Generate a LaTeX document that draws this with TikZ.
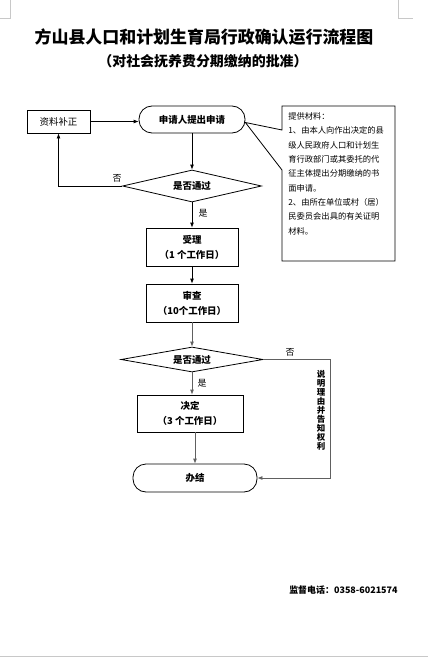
\documentclass[tikz,border=0pt]{standalone}
\usepackage{fontspec}
\setmainfont{Noto Sans CJK SC}
\usetikzlibrary{arrows.meta,positioning,shapes.geometric}
\definecolor{flowgray}{RGB}{96,96,96}
\definecolor{pagegray}{RGB}{200,200,200}

\begin{document}
\begin{tikzpicture}[x=1bp,y=-1bp,>={Latex[length=5bp,width=4bp]},line width=0.8bp,
    every node/.style={align=center,inner sep=0pt},
    stepbox/.style={draw,font=\fontsize{9.5}{15}\selectfont\bfseries},
    termbox/.style={draw,rounded corners=13bp,font=\fontsize{9.5}{12}\selectfont\bfseries},
    testbox/.style={draw,diamond,font=\fontsize{9.5}{12}\selectfont\bfseries},
    lbl/.style={font=\fontsize{9}{11}\selectfont}]
    \useasboundingbox (0,0) rectangle (428,657);
    \draw[pagegray,line width=0.6bp] (10,0) -- (10,18) -- (0,18) (398,0) -- (398,18) -- (413,18);
    \draw[pagegray,line width=0.6bp] (0,656.5) -- (428,656.5);
    \node[font=\fontsize{17}{20}\selectfont\bfseries] (title) at (204,37) {方山县人口和计划生育局行政确认运行流程图};
    \node[font=\fontsize{14}{16}\selectfont\bfseries] (subtitle) at (203,61) {（对社会抚养费分期缴纳的批准）};
    \node[termbox,minimum width=106bp,minimum height=27bp] (apply) at (192,119.5) {申请人提出申请};
    \node[draw,font=\fontsize{9.5}{12}\selectfont,minimum width=63bp,minimum height=23bp] (fix) at (58.5,121.5) {资料补正};
    \node[testbox,aspect=4.3,minimum width=139bp,minimum height=32bp] (check1) at (192,186) {是否通过};
    \node[stepbox,minimum width=92bp,minimum height=38bp] (accept) at (192,247) {受理\\（1 个工作日）};
    \node[stepbox,minimum width=92bp,minimum height=38bp] (review) at (192,303) {审查\\（10个工作日）};
    \node[testbox,aspect=5.7,minimum width=142bp,minimum height=25bp] (check2) at (192,359.5) {是否通过};
    \node[stepbox,minimum width=106bp,minimum height=37bp] (decide) at (190,413.5) {决定\\（3 个工作日）};
    \node[termbox,minimum width=124bp,minimum height=28bp] (done) at (195,478) {办结};
    \node[anchor=north west,align=left,font=\fontsize{8.3}{14.4}\selectfont] (materials) at (288,112)
      {提供材料：\\1、由本人向作出决定的县\\级人民政府人口和计划生\\育行政部门或其委托的代\\征主体提出分期缴纳的书\\面申请。\\2、由所在单位或村（居）\\民委员会出具的有关证明\\材料。};
    \coordinate (tip) at ([yshift=-3bp]apply.east);
    \draw (tip) -- (282,130) |- (395,106) |- (282,261) -- (282,170) -- cycle;
    \node[lbl] (no1) at (117,178) {否};
    \node[lbl] (yes1) at (203,213) {是};
    \node[lbl] (no2) at (290,352) {否};
    \node[lbl] (yes2) at (202,383) {是};
    \node[font=\fontsize{8.5}{9}\selectfont\bfseries] (reason) at (321,410) {说\\明\\理\\由\\并\\告\\知\\权\\利};
    \node[font=\fontsize{9}{11}\selectfont\bfseries,anchor=east] (phone) at (398,590) {监督电话：0358-6021574};
    \draw[->] (fix.east) -- (fix.east -| apply.west);
    \draw[->] (apply) -- (check1);
    \draw[->] (check1.west) -| (fix);
    \draw[->] (check1) -- (accept);
    \draw[->] (accept) -- (review);
    \draw[->,flowgray] (review) -- (check2);
    \draw[->,flowgray] (check2) -- (check2 |- decide.north);
    \draw[->,flowgray] (decide.south -| done.north) -- (done);
    \draw[->,flowgray] (check2.east) -- ++(67,0) |- (done.east);
  \end{tikzpicture}
\end{document}
